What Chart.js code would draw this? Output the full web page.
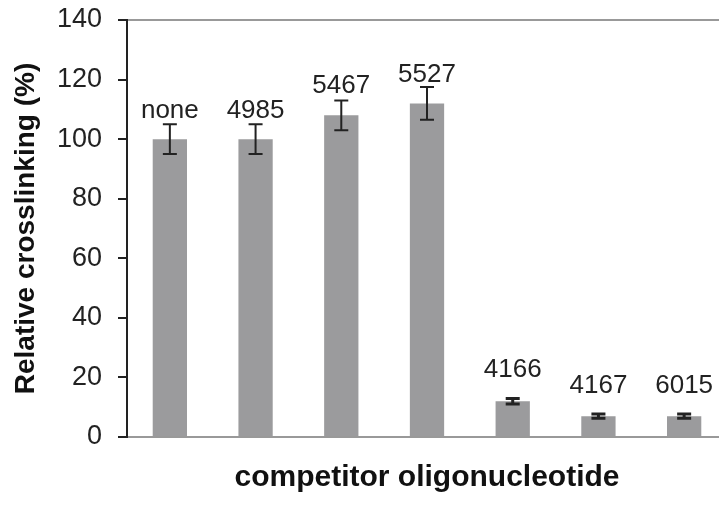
<!DOCTYPE html>
<html>
<head>
<meta charset="utf-8">
<script src="https://cdn.jsdelivr.net/npm/chart.js@4/dist/chart.umd.min.js"></script>
<style>
  html, body { margin: 0; padding: 0; background: #fff; overflow: hidden; }
  #wrap { width: 745px; height: 505px; }
</style>
</head>
<body>
<div id="wrap"><canvas id="chart" width="745" height="505"></canvas></div>
<script>
const categories = ["none", "4985", "5467", "5527", "4166", "4167", "6015"];
const crosslinking = [100, 100, 108, 112, 12, 7, 7];
const errors = [5, 5, 5, 5.5, 0.9, 0.7, 0.7];
// height (in axis units) where each oligo name sits
const labelAt = [107, 107, 115.4, 119.1, 20.1, 14.8, 14.8];
const yTicks = [0, 20, 40, 60, 80, 100, 120, 140];

const FONT = "'Liberation Sans', Arial, sans-serif";

const errorBars = {
  id: "errorBars",
  afterDatasetsDraw(chart) {
    const { ctx, scales: { y } } = chart;
    const meta = chart.getDatasetMeta(0);
    ctx.save();
    ctx.strokeStyle = "#222";
    meta.data.forEach((bar, i) => {
      const hi = y.getPixelForValue(crosslinking[i] + errors[i]);
      const lo = y.getPixelForValue(crosslinking[i] - errors[i]);
      const x = bar.x;
      // very short bars come out as a solid block, like the original
      ctx.lineWidth = (lo - hi) < 6 ? 3 : 2;
      ctx.beginPath();
      ctx.moveTo(x, hi); ctx.lineTo(x, lo);
      ctx.moveTo(x - 7, hi); ctx.lineTo(x + 7, hi);
      ctx.moveTo(x - 7, lo); ctx.lineTo(x + 7, lo);
      ctx.stroke();
    });
    // names above bars
    ctx.fillStyle = "#222";
    ctx.font = "26px " + FONT;
    ctx.textAlign = "center";
    ctx.textBaseline = "alphabetic";
    meta.data.forEach((bar, i) => {
      ctx.fillText(categories[i], bar.x, y.getPixelForValue(labelAt[i]));
    });
    ctx.restore();
  }
};

new Chart(document.getElementById("chart"), {
  type: "bar",
  data: {
    labels: categories,
    datasets: [{
      data: crosslinking,
      backgroundColor: "#9b9b9d",
      borderWidth: 0,
      categoryPercentage: 1,
      barPercentage: 0.4
    }]
  },
  options: {
    responsive: false,
    animation: false,
    layout: { padding: { top: 20, right: 18, left: 0, bottom: 0 } },
    plugins: { legend: { display: false }, tooltip: { enabled: false } },
    scales: {
      x: {
        grid: { display: false },
        border: { color: "#999", width: 2 },
        ticks: { display: false },
        title: {
          display: true,
          text: "competitor oligonucleotide",
          color: "#111",
          font: { family: FONT, size: 30, weight: "bold" },
          padding: { top: 0, bottom: 9 }
        },
        afterFit(scale) { scale.height = 68; }
      },
      x2: {
        position: "top",
        grid: { display: false },
        border: { color: "#999", width: 2 },
        ticks: { display: false },
        afterFit(scale) { scale.height = 0; }
      },
      y: {
        min: 0,
        max: 140,
        afterBuildTicks(scale) { scale.ticks = yTicks.map(v => ({ value: v })); },
        grid: { drawOnChartArea: false, tickLength: 9, color: "#222", lineWidth: 2 },
        border: { color: "#222", width: 2 },
        ticks: {
          color: "#222",
          padding: 16,
          font: { family: FONT, size: 27 }
        },
        title: {
          display: true,
          text: "Relative crosslinking (%)",
          color: "#111",
          font: { family: FONT, size: 28, weight: "bold" },
          padding: { top: 9, bottom: 0 }
        },
        afterFit(scale) {
          scale.width = 127;
          scale.paddingTop = 0;
          scale.paddingBottom = 0;
        }
      }
    }
  },
  plugins: [errorBars]
});
</script>
</body>
</html>
